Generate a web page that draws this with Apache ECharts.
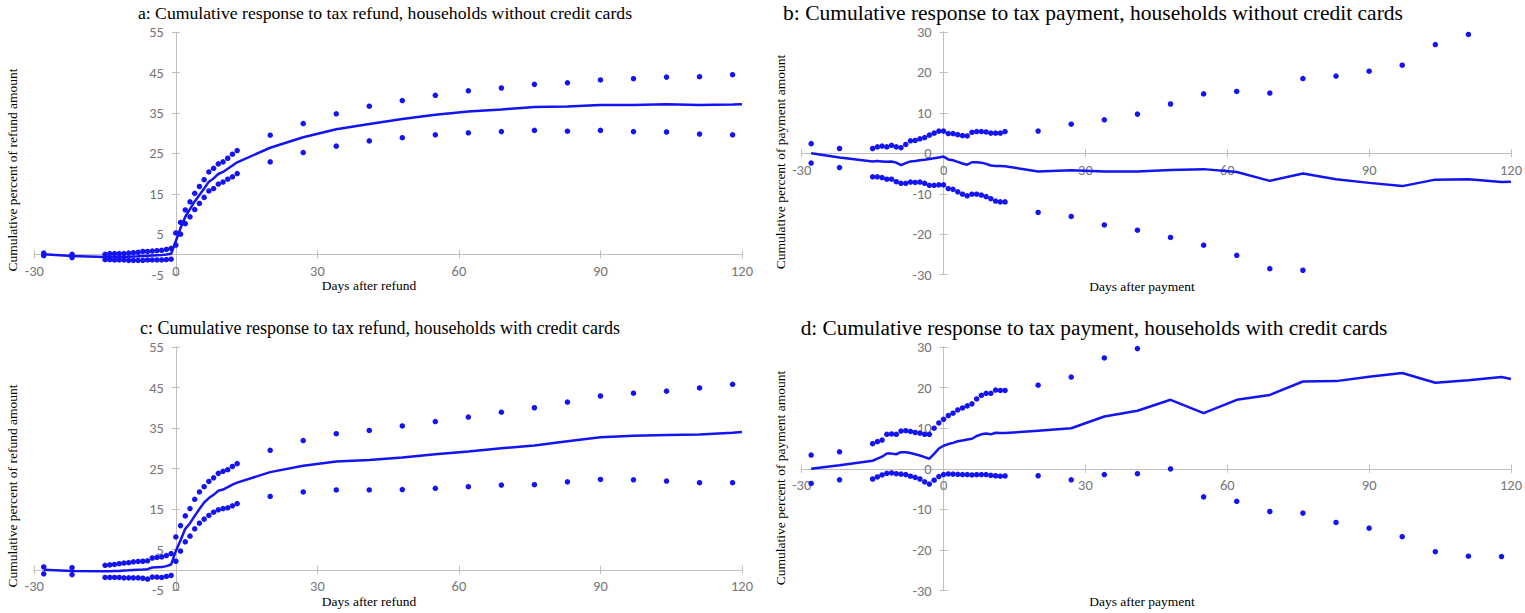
<!DOCTYPE html>
<html>
<head>
<meta charset="utf-8">
<script src="https://cdn.jsdelivr.net/npm/echarts@6/dist/echarts.min.js"></script>
<style>
  html, body { margin: 0; padding: 0; background: #ffffff; }
  #chart { width: 1525px; height: 613px; }
</style>
</head>
<body>
<div id="chart"></div>
<script>
// Days relative to the refund / payment date at which the estimates are reported
const dotDays = [-28, -22,
  -15, -14, -13, -12, -11, -10, -9, -8, -7, -6, -5, -4, -3, -2, -1,
  0,
  1, 2, 3, 4, 5, 6, 7, 8, 9, 10, 11, 12, 13,
  20, 27, 34, 41, 48, 55, 62, 69, 76, 83, 90, 97, 104, 111, 118];
const lineDays = dotDays.concat([120]);

const xTicks = { min: -30, max: 120, interval: 30 };
const refundTicks = { min: -5, max: 55, interval: 10 };
const paymentTicks = { min: -30, max: 30, interval: 10 };

// a: refund, households without credit cards
const refundNoCardLine = [0.0, -0.4,
  -0.65, -0.55, -0.6, -0.6, -0.6, -0.6, -0.55, -0.5, -0.4, -0.35, -0.3, -0.25, -0.2, -0.05, 0.15,
  3.3,
  6.5, 9.3, 11.2, 13.1, 14.7, 16.3, 18.0, 18.8, 19.9, 20.4, 21.2, 22.0, 22.8,
  26.4, 29.0, 31.0, 32.3, 33.5, 34.6, 35.4, 35.9, 36.5, 36.6, 37.0, 37.0, 37.2, 37.0, 37.1,
  37.2];
const refundNoCardUpper = [0.3, 0.0,
  0.0, 0.2, 0.2, 0.2, 0.2, 0.3, 0.4, 0.5, 0.7, 0.7, 0.8, 0.9, 1.0, 1.2, 1.5,
  5.3,
  7.9, 11.0, 13.0, 15.1, 16.8, 18.5, 20.4, 21.3, 22.4, 22.9, 23.8, 24.8, 25.7,
  29.5, 32.4, 34.8, 36.7, 38.1, 39.4, 40.5, 41.2, 42.1, 42.5, 43.2, 43.5, 43.9, 44.0, 44.5];
const refundNoCardLower = [-0.3, -0.8,
  -1.3, -1.3, -1.4, -1.4, -1.4, -1.5, -1.5, -1.5, -1.5, -1.4, -1.4, -1.4, -1.4, -1.3, -1.2,
  2.3,
  5.0, 7.6, 9.3, 11.1, 12.6, 14.1, 15.7, 16.3, 17.4, 17.9, 18.6, 19.2, 20.0,
  22.9, 25.2, 26.8, 28.1, 28.9, 29.6, 30.1, 30.4, 30.7, 30.5, 30.7, 30.4, 30.3, 29.8, 29.6];

// b: payment, households without credit cards
const paymentNoCardLine = [0.0, -1.0,
  -2.0, -1.9, -2.0, -2.1, -2.0, -2.3, -2.9, -2.4, -2.0, -1.9, -1.7, -1.6, -1.4, -1.2, -1.0,
  -0.8,
  -1.5, -1.7, -2.1, -2.5, -2.8, -2.2, -2.2, -2.3, -2.6, -3.0, -3.1, -3.1, -3.2,
  -4.5, -4.2, -4.5, -4.5, -4.1, -3.9, -4.6, -6.8, -5.0, -6.4, -7.3, -8.1, -6.5, -6.4, -7.1,
  -7.0];
const paymentNoCardUpper = [2.4, 1.2,
  1.2, 1.6, 1.8, 1.6, 2.0, 1.6, 1.4, 2.2, 3.1, 3.2, 3.6, 3.9, 4.5, 5.0, 5.5,
  5.5,
  4.9, 4.9, 4.6, 4.4, 4.3, 5.2, 5.4, 5.4, 5.3, 5.0, 5.0, 5.0, 5.4,
  5.5, 7.2, 8.3, 9.7, 12.2, 14.7, 15.3, 14.9, 18.5, 19.1, 20.3, 21.8, 26.9, 29.4, null];
const paymentNoCardLower = [-2.4, -3.5,
  -5.8, -5.8, -6.0, -6.4, -6.4, -7.0, -7.4, -7.4, -7.1, -7.2, -7.1, -7.4, -7.9, -7.9, -7.8,
  -7.8,
  -8.7, -8.9, -9.5, -10.1, -10.5, -10.1, -10.1, -10.3, -10.7, -11.2, -11.8, -12.0, -12.0,
  -14.6, -15.6, -17.7, -19.0, -20.8, -22.7, -25.2, -28.5, -28.9, null, null, null, null, null, null];

// c: refund, households with credit cards
const refundCardLine = [0.0, -0.3,
  -0.4, -0.35, -0.3, -0.3, -0.2, -0.15, -0.05, 0.0, 0.05, 0.15, 0.55, 0.6, 0.65, 0.9, 1.3,
  4.6,
  7.3, 10.1, 11.5, 13.3, 15.0, 16.6, 17.7, 18.5, 19.5, 19.8, 20.4, 21.0, 21.5,
  24.1, 25.7, 26.7, 27.1, 27.7, 28.5, 29.2, 30.0, 30.7, 31.7, 32.7, 33.1, 33.3, 33.4, 33.8,
  34.0];
const refundCardUpper = [0.7, 0.5,
  1.1, 1.2, 1.3, 1.5, 1.65, 1.75, 1.95, 2.05, 2.1, 2.2, 2.9, 3.05, 3.15, 3.5, 4.0,
  8.1,
  10.9, 13.3, 15.1, 17.4, 19.2, 20.5, 21.8, 22.7, 23.8, 24.3, 24.7, 25.5, 26.2,
  29.5, 31.9, 33.6, 34.4, 35.5, 36.6, 37.7, 38.9, 40.0, 41.4, 42.9, 43.6, 44.1, 44.9, 45.8];
const refundCardLower = [-1.0, -1.2,
  -1.9, -1.9, -1.9, -1.9, -2.0, -2.0, -2.0, -2.0, -2.1, -2.3, -1.8, -1.8, -1.9, -1.65, -1.4,
  2.1,
  4.6, 6.9, 8.3, 10.1, 11.5, 12.5, 13.4, 14.2, 14.8, 15.1, 15.3, 15.8, 16.3,
  18.1, 19.2, 19.7, 19.7, 19.8, 20.1, 20.5, 20.9, 21.0, 21.7, 22.3, 22.2, 21.9, 21.5, 21.5];

// d: payment, households with credit cards
const paymentCardLine = [0.0, 0.9,
  2.0, 2.5, 3.0, 3.8, 3.75, 3.6, 4.1, 4.1, 3.9, 3.6, 3.3, 2.9, 2.5, 3.7, 5.0,
  5.7,
  6.1, 6.4, 6.8, 7.0, 7.2, 7.4, 8.1, 8.5, 8.7, 8.5, 8.9, 8.8, 8.8,
  9.4, 10.0, 12.9, 14.3, 17.0, 13.7, 17.0, 18.2, 21.5, 21.6, 22.7, 23.6, 21.2, 21.8, 22.6,
  22.1];
const paymentCardUpper = [3.4, 4.2,
  6.2, 6.7, 7.1, 8.5, 8.6, 8.5, 9.3, 9.4, 9.2, 8.95, 8.8, 8.5, 8.5, 10.0, 11.3,
  12.2,
  13.1, 13.7, 14.5, 15.0, 15.5, 16.0, 17.2, 18.1, 18.6, 18.6, 19.4, 19.3, 19.3,
  20.6, 22.6, 27.3, 29.6, null, null, null, null, null, null, null, null, null, null, null];
const paymentCardLower = [-3.6, -2.7,
  -2.5, -2.0, -1.5, -1.1, -1.0, -1.2, -1.3, -1.4, -1.8, -2.1, -2.5, -3.2, -3.75, -2.8, -1.9,
  -1.4,
  -1.25, -1.3, -1.35, -1.4, -1.4, -1.5, -1.45, -1.4, -1.4, -1.6, -1.7, -1.8, -1.75,
  -1.7, -2.7, -1.4, -1.2, 0.0, -6.9, -8.0, -10.5, -10.9, -13.2, -14.6, -16.7, -20.4, -21.5, -21.6];

const BLUE = '#1414f2';
const AXIS_GRAY = '#bfbfbf';
const LABEL_GRAY = '#767676';
const SERIF = '"Liberation Serif", "Times New Roman", serif';
const SANS = 'Carlito, Lato, "Liberation Sans", sans-serif';

const panels = [
  { title: 'a: Cumulative response to tax refund, households without credit cards',
    yName: 'Cumulative percent of refund amount', xName: 'Days after refund',
    ticks: refundTicks, line: refundNoCardLine, upper: refundNoCardUpper, lower: refundNoCardLower,
    box: { left: 34.3, top: 32.3, width: 707.7, height: 242.2 },
    titlePos: [385, 13], titleSize: 17.7, yNamePos: [12, 170], xNamePos: [369, 285] },
  { title: 'b: Cumulative response to tax payment, households without credit cards',
    yName: 'Cumulative percent of payment amount', xName: 'Days after payment',
    ticks: paymentTicks, line: paymentNoCardLine, upper: paymentNoCardUpper, lower: paymentNoCardLower,
    box: { left: 801.7, top: 32, width: 709.6, height: 242.7 },
    titlePos: [1093, 13], titleSize: 21.5, yNamePos: [780, 162], xNamePos: [1142, 286] },
  { title: 'c: Cumulative response to tax refund, households with credit cards',
    yName: 'Cumulative percent of refund amount', xName: 'Days after refund',
    ticks: refundTicks, line: refundCardLine, upper: refundCardUpper, lower: refundCardLower,
    box: { left: 34.3, top: 347, width: 707.7, height: 243 },
    titlePos: [380, 328], titleSize: 18, yNamePos: [12, 486], xNamePos: [369, 601] },
  { title: 'd: Cumulative response to tax payment, households with credit cards',
    yName: 'Cumulative percent of payment amount', xName: 'Days after payment',
    ticks: paymentTicks, line: paymentCardLine, upper: paymentCardUpper, lower: paymentCardLower,
    box: { left: 801.7, top: 347, width: 709.6, height: 243.7 },
    titlePos: [1094, 328], titleSize: 21.3, yNamePos: [780, 478], xNamePos: [1142, 601] }
];

function points(days, values) {
  const out = [];
  days.forEach((d, i) => { if (values[i] !== null && values[i] !== undefined) out.push([d, values[i]]); });
  return out;
}

// Labels of an on-zero axis are laid out from the grid edge, so the margin is
// shifted back by the distance between that edge and the zero line.
function zeroShift(size, t) {
  return size * (0 - t.min) / (t.max - t.min);
}

const grid = [], xAxis = [], yAxis = [], series = [], graphic = [];

panels.forEach((p, i) => {
  grid.push({ left: p.box.left, top: p.box.top, width: p.box.width, height: p.box.height, containLabel: false });

  const label = { color: LABEL_GRAY, fontFamily: SANS, fontSize: 14.5 };
  const xLabelMargin = 9 - zeroShift(p.box.height, p.ticks);
  const yLabelMargin = 12 - zeroShift(p.box.width, xTicks);

  // main axes carry the labels and the outward half of each tick;
  // the twin axes add the inward half so ticks cross the axis line
  const xMain = {
    type: 'value', gridIndex: i, min: xTicks.min, max: xTicks.max, interval: xTicks.interval,
    axisLine: { show: true, onZero: true, onZeroAxisIndex: 2 * i, lineStyle: { color: AXIS_GRAY, width: 1 } },
    axisTick: { show: true, length: 4, lineStyle: { color: AXIS_GRAY } },
    axisLabel: Object.assign({ margin: xLabelMargin }, label),
    splitLine: { show: false }
  };
  const xTwin = {
    type: 'value', gridIndex: i, min: xTicks.min, max: xTicks.max, interval: xTicks.interval, position: 'bottom',
    axisLine: { show: true, onZero: true, onZeroAxisIndex: 2 * i, lineStyle: { color: AXIS_GRAY, width: 1 } },
    axisTick: { show: true, inside: true, length: 4, lineStyle: { color: AXIS_GRAY } },
    axisLabel: { show: false }, splitLine: { show: false }
  };
  const yMain = {
    type: 'value', gridIndex: i, min: p.ticks.min, max: p.ticks.max, interval: p.ticks.interval,
    axisLine: { show: true, onZero: true, onZeroAxisIndex: 2 * i, lineStyle: { color: AXIS_GRAY, width: 1 } },
    axisTick: { show: true, length: 4, lineStyle: { color: AXIS_GRAY } },
    axisLabel: Object.assign({ margin: yLabelMargin }, label),
    splitLine: { show: false }
  };
  const yTwin = {
    type: 'value', gridIndex: i, min: p.ticks.min, max: p.ticks.max, interval: p.ticks.interval, position: 'left',
    axisLine: { show: true, onZero: true, onZeroAxisIndex: 2 * i, lineStyle: { color: AXIS_GRAY, width: 1 } },
    axisTick: { show: true, inside: true, length: 4, lineStyle: { color: AXIS_GRAY } },
    axisLabel: { show: false }, splitLine: { show: false }
  };
  xAxis.push(xMain, xTwin);
  yAxis.push(yMain, yTwin);

  series.push({
    type: 'line', xAxisIndex: 2 * i, yAxisIndex: 2 * i,
    data: points(lineDays, p.line), showSymbol: false, symbol: 'none',
    lineStyle: { color: BLUE, width: 2.5 }, itemStyle: { color: BLUE }, z: 3
  });
  [p.upper, p.lower].forEach(vals => {
    series.push({
      type: 'scatter', xAxisIndex: 2 * i, yAxisIndex: 2 * i,
      data: points(dotDays, vals), symbol: 'circle', symbolSize: 5.5,
      itemStyle: { color: BLUE, opacity: 1 }, z: 4
    });
  });

  graphic.push({
    type: 'text', x: p.titlePos[0], y: p.titlePos[1],
    style: { text: p.title, fill: '#000', font: p.titleSize + 'px ' + SERIF,
             textAlign: 'center', textVerticalAlign: 'middle', align: 'center', verticalAlign: 'middle' }
  });
  graphic.push({
    type: 'text', x: p.xNamePos[0], y: p.xNamePos[1],
    style: { text: p.xName, fill: '#000', font: '13.5px ' + SERIF,
             textAlign: 'center', textVerticalAlign: 'middle', align: 'center', verticalAlign: 'middle' }
  });
  graphic.push({
    type: 'text', x: p.yNamePos[0], y: p.yNamePos[1], rotation: Math.PI / 2,
    style: { text: p.yName, fill: '#000', font: '13.5px ' + SERIF,
             textAlign: 'center', textVerticalAlign: 'middle', align: 'center', verticalAlign: 'middle' }
  });
});

const chart = echarts.init(document.getElementById('chart'), null, { renderer: 'svg' });
chart.setOption({
  animation: false,
  backgroundColor: '#ffffff',
  grid, xAxis, yAxis, series, graphic
});
</script>
</body>
</html>
